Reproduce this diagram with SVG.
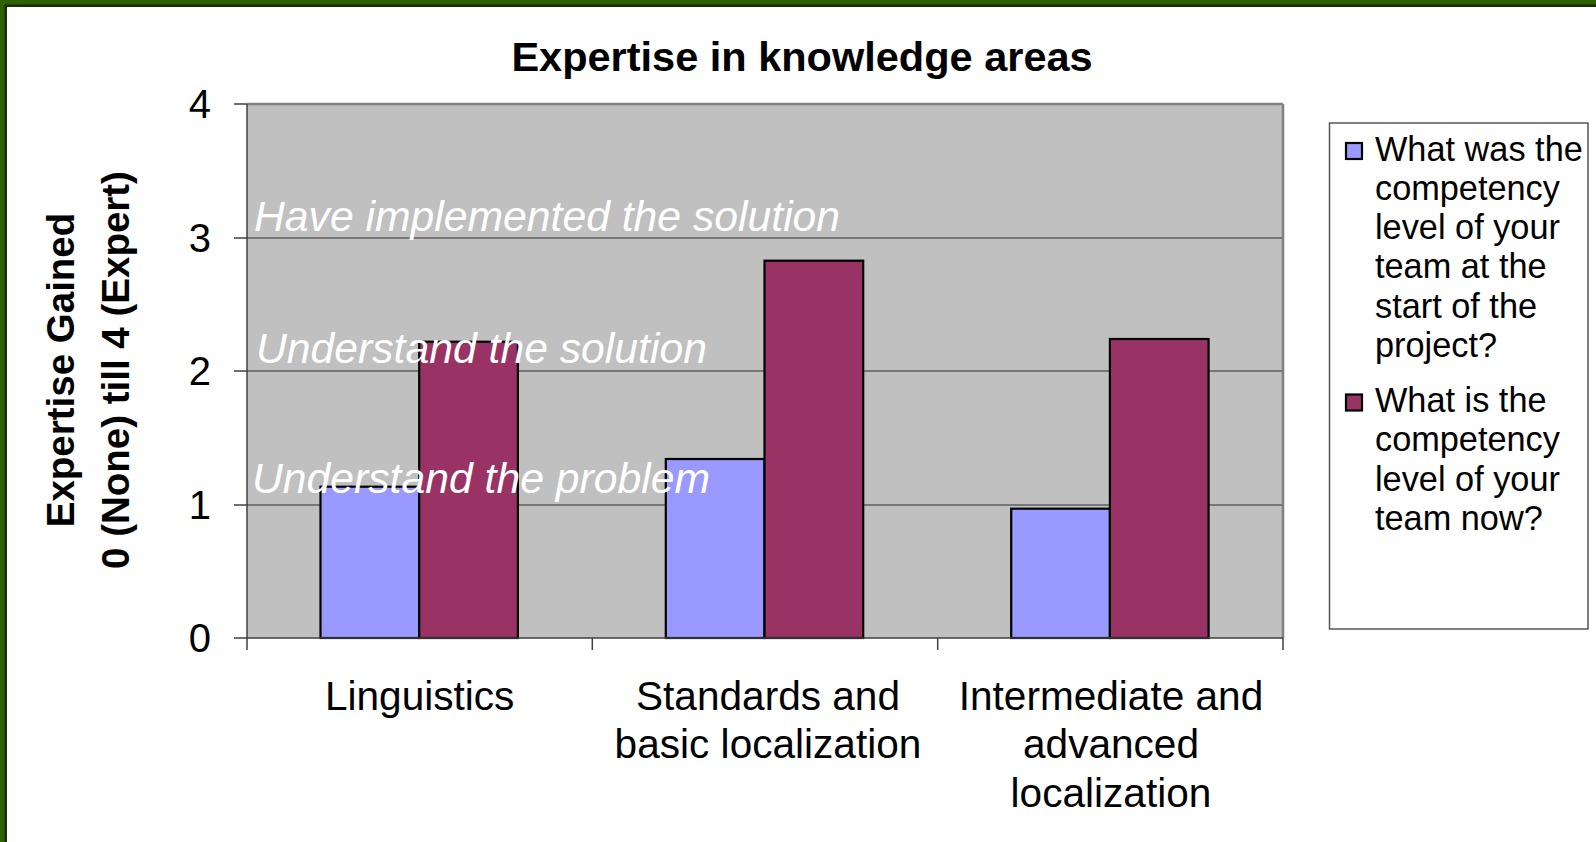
<svg xmlns="http://www.w3.org/2000/svg" width="1596" height="842" viewBox="0 0 1596 842">
<style>
text{font-family:"Liberation Sans",Arial,sans-serif;fill:#000}
.title{font-size:41.5px;font-weight:bold}
.ytitle{font-size:38.5px;font-weight:bold}
.tick{font-size:40px}
.cat{font-size:40.6px}
.note{font-size:42.7px;font-style:italic;fill:#fff}
.leg{font-size:34.3px}
.grid{stroke:#5f5f5f;stroke-width:1.5}
.axis{stroke:#404040;stroke-width:1.5}
.blue{fill:#9999ff;stroke:#000;stroke-width:2.2}
.maroon{fill:#993366;stroke:#000;stroke-width:2.2}
</style>
<rect x="0" y="0" width="1596" height="842" fill="#fff"/>
<g id="frame">
<rect x="0" y="0" width="1596" height="7" fill="#1e2a0c"/>
<rect x="0" y="0" width="7" height="842" fill="#1e2a0c"/>
<rect x="0" y="0" width="1596" height="4.5" fill="#2d6100"/>
<rect x="0" y="0" width="4.5" height="842" fill="#2d6100"/>
</g>
<g id="title"><text class="title" x="802" y="71" text-anchor="middle">Expertise in knowledge areas</text></g>
<g id="plot-area">
<rect x="247" y="104" width="1036" height="534" fill="#c0c0c0"/>
<line class="grid" x1="247" y1="238" x2="1283" y2="238"/>
<line class="grid" x1="247" y1="371" x2="1283" y2="371"/>
<line class="grid" x1="247" y1="505" x2="1283" y2="505"/>
<line x1="247" y1="104" x2="1283" y2="104" stroke="#808080" stroke-width="2.5"/>
<line x1="1283" y1="104" x2="1283" y2="638" stroke="#808080" stroke-width="2.5"/>
</g>
<g id="bars">
<rect class="blue" x="320.5" y="486.7" width="98.7" height="151.3"/>
<rect class="maroon" x="419.2" y="341.7" width="98.7" height="296.3"/>
<rect class="blue" x="665.8" y="459" width="98.7" height="179"/>
<rect class="maroon" x="764.5" y="260.7" width="98.7" height="377.3"/>
<rect class="blue" x="1011.2" y="508.7" width="98.7" height="129.3"/>
<rect class="maroon" x="1109.9" y="339" width="98.7" height="299"/>
</g>
<g id="axes">
<line class="axis" x1="247" y1="104" x2="247" y2="650"/>
<line class="axis" x1="234" y1="638" x2="1283" y2="638"/>
<line class="axis" x1="234" y1="104" x2="247" y2="104"/>
<line class="axis" x1="234" y1="238" x2="247" y2="238"/>
<line class="axis" x1="234" y1="371" x2="247" y2="371"/>
<line class="axis" x1="234" y1="505" x2="247" y2="505"/>
<line class="axis" x1="592.3" y1="638" x2="592.3" y2="650"/>
<line class="axis" x1="937.7" y1="638" x2="937.7" y2="650"/>
<line class="axis" x1="1283" y1="638" x2="1283" y2="650"/>
</g>
<g id="y-labels">
<text class="tick" x="211" y="117.5" text-anchor="end">4</text>
<text class="tick" x="211" y="251.5" text-anchor="end">3</text>
<text class="tick" x="211" y="384.5" text-anchor="end">2</text>
<text class="tick" x="211" y="518.5" text-anchor="end">1</text>
<text class="tick" x="211" y="651.5" text-anchor="end">0</text>
</g>
<g id="y-title">
<text class="ytitle" transform="translate(74,370) rotate(-90)" text-anchor="middle">Expertise Gained</text>
<text class="ytitle" transform="translate(129,370) rotate(-90)" text-anchor="middle">0 (None) till 4 (Expert)</text>
</g>
<g id="category-labels">
<text class="cat" x="419.7" y="709.5" text-anchor="middle">Linguistics</text>
<text class="cat" x="768" y="709.5" text-anchor="middle">Standards and</text>
<text class="cat" x="768" y="758" text-anchor="middle">basic localization</text>
<text class="cat" x="1111" y="709.5" text-anchor="middle">Intermediate and</text>
<text class="cat" x="1111" y="758" text-anchor="middle">advanced</text>
<text class="cat" x="1111" y="806.5" text-anchor="middle">localization</text>
</g>
<g id="annotations">
<text class="note" x="254" y="231">Have implemented the solution</text>
<text class="note" x="256" y="363">Understand the solution</text>
<text class="note" x="252" y="493">Understand the problem</text>
</g>
<g id="legend">
<rect x="1329.5" y="123" width="258.5" height="506" fill="#fff" stroke="#555" stroke-width="1.5"/>
<rect class="blue" x="1346" y="143" width="16" height="16" stroke-width="2"/>
<text class="leg" x="1375" y="160.8">What was the</text>
<text class="leg" x="1375" y="200">competency</text>
<text class="leg" x="1375" y="239.2">level of your</text>
<text class="leg" x="1375" y="278.4">team at the</text>
<text class="leg" x="1375" y="317.6">start of the</text>
<text class="leg" x="1375" y="356.8">project?</text>
<rect class="maroon" x="1346" y="394.5" width="16" height="16" stroke-width="2"/>
<text class="leg" x="1375" y="412.2">What is the</text>
<text class="leg" x="1375" y="451.4">competency</text>
<text class="leg" x="1375" y="490.6">level of your</text>
<text class="leg" x="1375" y="529.8">team now?</text>
</g>
</svg>
